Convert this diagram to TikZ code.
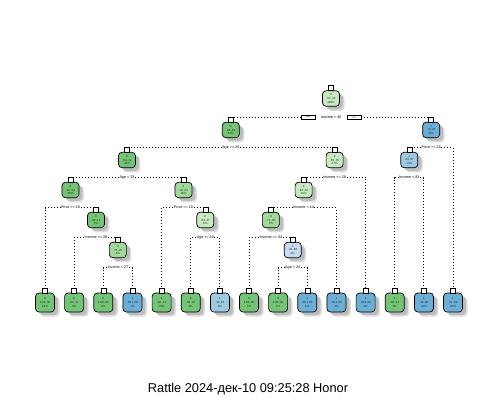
\documentclass[tikz,border=0pt]{standalone}
\usepackage{fontspec}
\setmainfont{Liberation Sans}
\usetikzlibrary{shadows}
\definecolor{gA}{HTML}{74C476}
\definecolor{gB}{HTML}{A1D99B}
\definecolor{gC}{HTML}{C7E9C0}
\definecolor{bA}{HTML}{6BAED6}
\definecolor{bB}{HTML}{9ECAE1}
\definecolor{bC}{HTML}{C6DBEF}
\tikzset{
  ibody/.style={draw=black, line width=0.7pt, rounded corners=3.5pt, minimum width=17pt, minimum height=15.5pt,
    inner sep=0pt, outer sep=0pt, align=center, font=\fontsize{2.9}{3.6}\selectfont, text=black!85,
    drop shadow={shadow xshift=5pt, shadow yshift=-4.5pt, opacity=0.25, fill=gray},
    drop shadow={shadow xshift=3.5pt, shadow yshift=-3pt, opacity=0.35, fill=gray}},
  lbody/.style={ibody, minimum width=19pt, minimum height=19pt},
  tagbox/.style={draw=black, fill=white, line width=0.6pt, minimum width=5pt, minimum height=5pt, inner sep=0pt, outer sep=0pt},
  splitlab/.style={fill=white, inner sep=0.6pt, outer sep=0pt, font=\fontsize{3.7}{4.2}\selectfont, text=black},
  ynbox/.style={draw=black, fill=white, line width=0.6pt, minimum width=14pt, minimum height=4.5pt, inner sep=0pt, outer sep=0pt, font=\fontsize{2.5}{3}\selectfont},
  branch/.style={line width=0.9pt, dash pattern=on 0.9pt off 2.1pt, black}
}
\newcommand\inode[7]{%
  \node[ibody, fill=#4] (#1) at (#2,#3) {#5\\#6\\#7};
  \node[tagbox, anchor=south] (#1-t) at (#1.north) {};}
\newcommand\lnode[6]{%
  \node[lbody, fill=#3] (#1) at (#2,302.5) {#4\\#5\\#6};
  \node[tagbox, anchor=south] (#1-t) at (#1.north) {};}
\newcommand\splitl[4]{\node[splitlab] (#1) at (#2,#3) {#4};}
\begin{document}
\begin{tikzpicture}[x=1pt,y=-1pt]
\useasboundingbox[fill=white] (0,0) rectangle (498,418);
% internal nodes
\inode{R}{331}{98.5}{gC}{0}{.57 .43}{100\%}
\inode{A}{230.8}{130}{gA}{0}{.86 .14}{67\%}
\inode{B}{431.15}{130}{bA}{1}{.13 .87}{33\%}
\inode{C}{126.97}{160}{gA}{0}{.89 .11}{40\%}
\inode{D}{334.6}{160}{gC}{0}{.65 .35}{27\%}
\inode{M}{409.3}{160}{bB}{1}{.33 .67}{13\%}
\inode{E}{70.49}{190}{gA}{0}{.96 .04}{25\%}
\inode{F}{183.45}{190}{gB}{0}{.78 .22}{15\%}
\inode{J}{303.6}{190}{gC}{0}{.60 .40}{15\%}
\inode{G}{95.98}{220}{gA}{0}{.88 .12}{7\%}
\inode{I}{205.3}{220}{gC}{0}{.53 .47}{6\%}
\inode{K}{270.85}{220}{gB}{0}{.71 .29}{7\%}
\inode{H}{117.85}{250}{gB}{0}{.75 .25}{4\%}
\inode{L}{292.7}{250}{bC}{1}{.40 .60}{3\%}
% leaves
\lnode{l1}{45}{gA}{0}{1.00 .00}{18\%}
\lnode{l2}{74.1}{gA}{0}{.86 .14}{3\%}
\lnode{l3}{103.3}{gA}{0}{1.00 .00}{3\%}
\lnode{l4}{132.4}{bA}{1}{.00 1.00}{1\%}
\lnode{l5}{161.6}{gA}{0}{.86 .14}{10\%}
\lnode{l6}{190.7}{gA}{0}{.80 .20}{3\%}
\lnode{l7}{219.9}{bB}{1}{.33 .67}{3\%}
\lnode{l8}{249}{gA}{0}{1.00 .00}{3\%}
\lnode{l9}{278.1}{gA}{0}{1.00 .00}{1\%}
\lnode{l10}{307.3}{bA}{1}{.00 1.00}{1\%}
\lnode{l11}{336.4}{bA}{1}{.00 1.00}{1\%}
\lnode{l12}{365.6}{bA}{1}{.00 1.00}{1\%}
\lnode{l13}{394.7}{gA}{0}{.88 .12}{3\%}
\lnode{l14}{423.9}{bA}{1}{.18 .82}{10\%}
\lnode{l15}{453}{bA}{1}{.07 .93}{20\%}
% split labels
\splitl{Rs}{331}{117.5}{Income < 48}
\node[ynbox] (yes) at (308,117.5) {yes};
\node[ynbox] (no) at (354,117.5) {no};
\splitl{As}{230.8}{147.5}{Age >= 26}
\splitl{Bs}{431.15}{147.5}{Price >= 28}
\splitl{Cs}{126.97}{177.5}{Age < 33}
\splitl{Ds}{334.6}{177.5}{Income >= 28}
\splitl{Ms}{409.3}{177.5}{Income < 83}
\splitl{Es}{70.49}{207.5}{Price >= 18}
\splitl{Fs}{183.45}{207.5}{Price >= 18}
\splitl{Js}{303.6}{207.5}{Income < 44}
\splitl{Gs}{95.98}{237.5}{Income >= 28}
\splitl{Is}{205.3}{237.5}{Age >= 40}
\splitl{Ks}{270.85}{237.5}{Income >= 34}
\splitl{Hs}{117.85}{267.5}{Income < 27}
\splitl{Ls}{292.7}{267.5}{Age < 24}
% branches
\draw[branch] (yes.west) -| (A-t.north);
\draw[branch] (no.east) -| (B-t.north);
\draw[branch] (As.west) -| (C-t.north);
\draw[branch] (As.east) -| (D-t.north);
\draw[branch] (Bs.west) -| (M-t.north);
\draw[branch] (Bs.east) -| (l15-t.north);
\draw[branch] (Cs.west) -| (E-t.north);
\draw[branch] (Cs.east) -| (F-t.north);
\draw[branch] (Ds.west) -| (J-t.north);
\draw[branch] (Ds.east) -| (l12-t.north);
\draw[branch] (Ms.west) -| (l13-t.north);
\draw[branch] (Ms.east) -| (l14-t.north);
\draw[branch] (Es.west) -| (l1-t.north);
\draw[branch] (Es.east) -| (G-t.north);
\draw[branch] (Fs.west) -| (l5-t.north);
\draw[branch] (Fs.east) -| (I-t.north);
\draw[branch] (Js.west) -| (K-t.north);
\draw[branch] (Js.east) -| (l11-t.north);
\draw[branch] (Gs.west) -| (l2-t.north);
\draw[branch] (Gs.east) -| (H-t.north);
\draw[branch] (Is.west) -| (l6-t.north);
\draw[branch] (Is.east) -| (l7-t.north);
\draw[branch] (Ks.west) -| (l8-t.north);
\draw[branch] (Ks.east) -| (L-t.north);
\draw[branch] (Hs.west) -| (l3-t.north);
\draw[branch] (Hs.east) -| (l4-t.north);
\draw[branch] (Ls.west) -| (l9-t.north);
\draw[branch] (Ls.east) -| (l10-t.north);
% title
\node[font=\fontsize{12.8}{15}\selectfont, inner sep=0pt] (title) at (248,389) {Rattle 2024-дек-10 09:25:28 Honor};
\end{tikzpicture}
\end{document}
